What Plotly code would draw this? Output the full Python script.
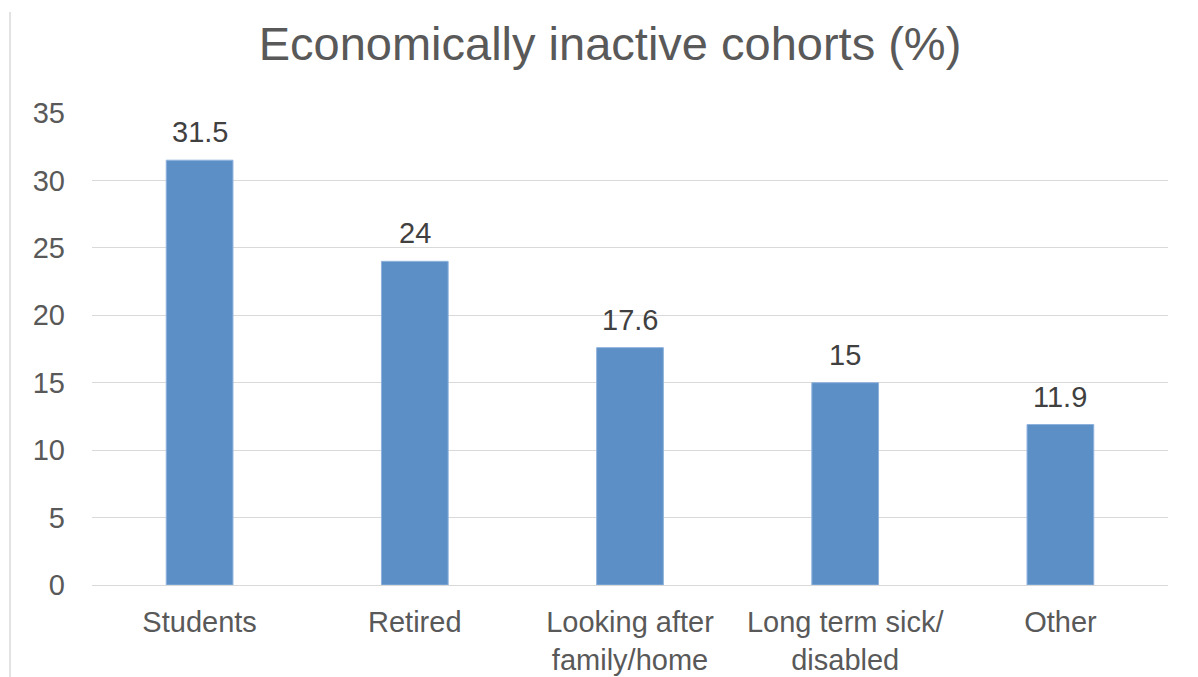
import plotly.graph_objects as go

categories = ["Students", "Retired", "Looking after<br>family/home", "Long term sick/<br>disabled", "Other"]
values = [31.5, 24, 17.6, 15, 11.9]
labels = ["31.5", "24", "17.6", "15", "11.9"]
y_ticks = [0, 5, 10, 15, 20, 25, 30, 35]

FONT = "Liberation Sans, Arial, sans-serif"
TXT = "#595959"

fig = go.Figure()
fig.add_trace(go.Bar(
    x=categories, y=values,
    marker=dict(color="#5b8fc6", line=dict(color="#8fb2dc", width=1)),
    hoverinfo="skip",
))

for c, v, t in zip(categories, values, labels):
    fig.add_annotation(x=c, y=v, text=t, showarrow=False, yanchor="bottom",
                       yshift=10, font=dict(family=FONT, size=29, color="#404040"))

fig.add_shape(type="line", xref="paper", yref="paper",
              x0=-0.0762, x1=-0.0762, y0=1.214, y1=-0.25,
              line=dict(color="#d9d9d9", width=1.5))

fig.update_layout(
    width=1198, height=677,
    margin=dict(l=84, r=38, t=105, b=100, autoexpand=False),
    paper_bgcolor="white", plot_bgcolor="white",
    bargap=0.69,
    showlegend=False,
    title=dict(text="Economically inactive cohorts (%)", x=0.5025, xanchor="center",
               y=0.947, yanchor="middle",
               font=dict(family=FONT, size=47, color=TXT)),
    font=dict(family=FONT, color=TXT),
    xaxis=dict(showgrid=False, showline=False, ticks="", ticklabelstandoff=17,
               automargin=False,
               tickfont=dict(family=FONT, size=29, color=TXT)),
    yaxis=dict(range=[0, 35], tickvals=y_ticks, showgrid=True, gridcolor="#d9d9d9",
               gridwidth=1, zeroline=True, zerolinecolor="#d9d9d9", zerolinewidth=1,
               showline=False, ticks="", ticklabelstandoff=26, automargin=False,
               tickfont=dict(family=FONT, size=29, color=TXT)),
)

fig.write_html("out.html")
